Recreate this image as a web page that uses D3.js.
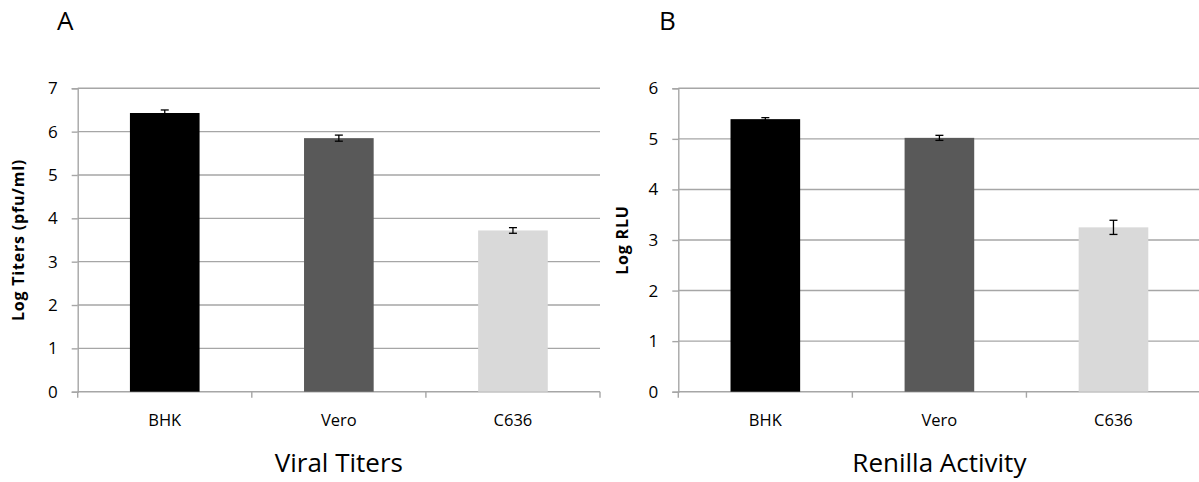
<!DOCTYPE html>
<html>
<head>
<meta charset="utf-8">
<script src="https://cdn.jsdelivr.net/npm/d3@7"></script>
<style>
  html, body { margin: 0; padding: 0; background: #fff; }
  svg { display: block; font-family: "Open Sans", "Noto Sans", sans-serif; }
</style>
</head>
<body>
<svg id="chart" width="1199" height="482"></svg>
<script>
// Cell lines shared by both panels
const categories = ["BHK", "Vero", "C636"];
const barColors = ["#000000", "#595959", "#d9d9d9"];

// Panel A: viral titers (log pfu/ml) with standard error
const titerValues = [6.43, 5.85, 3.72];
const titerErrors = [0.07, 0.07, 0.065];
const titerTicks = [0, 1, 2, 3, 4, 5, 6, 7];

// Panel B: Renilla luciferase activity (log RLU) with standard error
const rluValues = [5.39, 5.02, 3.25];
const rluErrors = [0.03, 0.05, 0.14];
const rluTicks = [0, 1, 2, 3, 4, 5, 6];

const svg = d3.select("#chart");
const gridColor = "#a6a6a6";

function drawPanel(opts) {
  const g = svg.append("g");
  const x = d3.scaleBand().domain(categories)
    .range([opts.left, opts.right]).paddingInner(0.6).paddingOuter(0.3);
  const band = d3.scaleBand().domain(categories).range([opts.left, opts.right]);
  const y = d3.scaleLinear().domain([0, d3.max(opts.ticks)]).range([opts.bottom, opts.top]);

  // horizontal gridlines
  g.selectAll("line.grid").data(opts.ticks.filter(t => t > 0)).join("line")
    .attr("x1", opts.left).attr("x2", opts.right)
    .attr("y1", d => y(d)).attr("y2", d => y(d))
    .attr("stroke", gridColor).attr("stroke-width", 1.4);

  // y axis
  const yAxis = g.append("g").attr("transform", `translate(${opts.left},0)`)
    .call(d3.axisLeft(y).tickValues(opts.ticks).tickSize(6).tickPadding(14).tickFormat(d3.format("d")));
  yAxis.select(".domain").attr("stroke", gridColor).attr("stroke-width", 1.4);
  yAxis.selectAll(".tick line").attr("stroke", gridColor).attr("stroke-width", 1.4);
  yAxis.selectAll(".tick text").attr("font-size", 17).attr("fill", "#000")
    .attr("font-family", "'Open Sans', sans-serif");

  // x axis with ticks between categories
  const xAxisG = g.append("g").attr("transform", `translate(0,${opts.bottom})`);
  xAxisG.append("line").attr("x1", opts.left).attr("x2", opts.right)
    .attr("y1", 0).attr("y2", 0).attr("stroke", gridColor).attr("stroke-width", 1.4);
  const boundaries = categories.map(c => band(c)).concat([band(categories[categories.length - 1]) + band.bandwidth()]);
  xAxisG.selectAll("line.sep").data(boundaries).join("line")
    .attr("x1", d => d).attr("x2", d => d).attr("y1", 0).attr("y2", 6)
    .attr("stroke", gridColor).attr("stroke-width", 1.4);
  xAxisG.selectAll("text.cat").data(categories).join("text")
    .attr("x", d => band(d) + band.bandwidth() / 2).attr("y", 34.3)
    .attr("text-anchor", "middle").attr("font-size", 16.5).text(d => d);

  // bars
  g.selectAll("rect.bar").data(opts.values).join("rect")
    .attr("x", (d, i) => x(categories[i])).attr("width", x.bandwidth())
    .attr("y", d => y(d)).attr("height", d => opts.bottom - y(d))
    .attr("fill", (d, i) => barColors[i]);

  // error bars
  const cap = 4;
  const eb = g.selectAll("g.err").data(opts.values).join("g")
    .attr("stroke", "#000").attr("stroke-width", 1.3);
  eb.append("line")
    .attr("x1", (d, i) => x(categories[i]) + x.bandwidth() / 2)
    .attr("x2", (d, i) => x(categories[i]) + x.bandwidth() / 2)
    .attr("y1", (d, i) => y(d - opts.errors[i])).attr("y2", (d, i) => y(d + opts.errors[i]));
  eb.append("line")
    .attr("x1", (d, i) => x(categories[i]) + x.bandwidth() / 2 - cap)
    .attr("x2", (d, i) => x(categories[i]) + x.bandwidth() / 2 + cap)
    .attr("y1", (d, i) => y(d + opts.errors[i])).attr("y2", (d, i) => y(d + opts.errors[i]));
  eb.append("line")
    .attr("x1", (d, i) => x(categories[i]) + x.bandwidth() / 2 - cap)
    .attr("x2", (d, i) => x(categories[i]) + x.bandwidth() / 2 + cap)
    .attr("y1", (d, i) => y(d - opts.errors[i])).attr("y2", (d, i) => y(d - opts.errors[i]));

  // y axis title
  g.append("text")
    .attr("transform", `translate(${opts.yTitleX},${(opts.top + opts.bottom) / 2}) rotate(-90)`)
    .attr("text-anchor", "middle").attr("dominant-baseline", "central")
    .attr("font-size", 16).attr("letter-spacing", 0.8)
    .attr("font-weight", "bold").text(opts.yTitle);

  // chart title
  g.append("text").attr("x", (opts.left + opts.right) / 2).attr("y", opts.titleY)
    .attr("text-anchor", "middle").attr("font-size", 26).text(opts.title);

  // panel letter
  g.append("text").attr("x", opts.letterX).attr("y", 30)
    .attr("font-size", 26).text(opts.letter);
}

drawPanel({
  left: 77.7, right: 600, top: 88.3, bottom: 391.7,
  ticks: titerTicks, values: titerValues, errors: titerErrors,
  yTitle: "Log Titers (pfu/ml)", yTitleX: 18,
  title: "Viral Titers", titleY: 472, letter: "A", letterX: 57
});

drawPanel({
  left: 678.3, right: 1200.5, top: 88.3, bottom: 391.7,
  ticks: rluTicks, values: rluValues, errors: rluErrors,
  yTitle: "Log RLU", yTitleX: 621.5,
  title: "Renilla Activity", titleY: 472, letter: "B", letterX: 659
});
</script>
</body>
</html>
